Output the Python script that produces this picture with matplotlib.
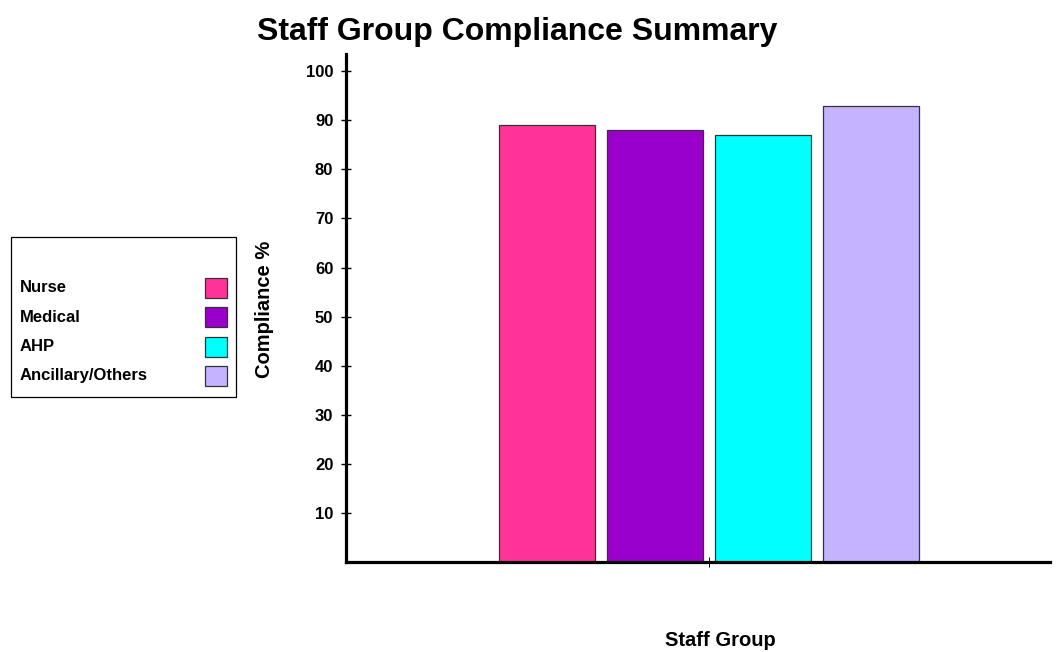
import matplotlib
matplotlib.use("Agg")
import matplotlib.pyplot as plt
from matplotlib.patches import Rectangle

categories = ["Nurse", "Medical", "AHP", "Ancillary/Others"]
values = [89, 88, 87, 93]
colors = ["#FF3399", "#9900CC", "#00FFFF", "#C6B3FF"]
yticks = [10, 20, 30, 40, 50, 60, 70, 80, 90, 100]
title = "Staff Group Compliance Summary"
xlabel = "Staff Group"
ylabel = "Compliance %"

plt.rcParams['font.family'] = ['Liberation Sans', 'DejaVu Sans']
plt.rcParams['font.weight'] = 'bold'

W, H = 1062, 652
fig = plt.figure(figsize=(W / 100, H / 100), dpi=100)
ax_l, ax_r, ax_t, ax_b = 346, 1050, 54, 562
ax = fig.add_axes([ax_l / W, (H - ax_b) / H, (ax_r - ax_l) / W, (ax_b - ax_t) / H])

pitch = 108.0
bw = 96 / pitch
n = len(categories)
pos = [i - (n - 1) / 2 for i in range(n)]
ax.bar(pos, values, width=bw, color=colors, edgecolor="#333333", linewidth=0.9, zorder=2)

ax.set_xlim((ax_l - 709) / pitch, (ax_r - 709) / pitch)
ax.set_ylim(0, 103.5)
ax.set_yticks(yticks)
ax.set_yticklabels([str(v) for v in yticks], fontsize=12, fontweight='bold')
ax.set_xticks([0])
ax.set_xticklabels([""])
ax.tick_params(axis='y', direction='inout', length=7.2, width=1.0, pad=5.5)
ax.tick_params(axis='x', direction='inout', length=7, width=0.7)
for s in ["top", "right"]:
    ax.spines[s].set_visible(False)
ax.spines["left"].set_linewidth(2.3)
ax.spines["bottom"].set_linewidth(2.3)

fig.text(517 / W, 1 - 32 / H, title, fontsize=23, fontweight='bold', ha='center', va='center')
fig.text(265 / W, 1 - 309 / H, ylabel, fontsize=14.5, fontweight='bold', ha='center', va='center', rotation=90)
fig.text(720 / W, 1 - 640 / H, xlabel, fontsize=14.5, fontweight='bold', ha='center', va='center')

# legend box
lx0, lx1, ly0, ly1 = 11, 236, 237, 397
fig.patches.append(Rectangle((lx0 / W, 1 - ly1 / H), (lx1 - lx0) / W, (ly1 - ly0) / H,
                             transform=fig.transFigure, facecolor='white', edgecolor='black', linewidth=0.9))
row0, rstep = 288, 29.3
for i, (c, col) in enumerate(zip(categories, colors)):
    yc = row0 + i * rstep
    fig.text(20 / W, 1 - yc / H, c, fontsize=12, fontweight='bold', ha='left', va='center')
    fig.patches.append(Rectangle((205 / W, 1 - (yc + 10) / H), 22 / W, 20 / H,
                                 transform=fig.transFigure, facecolor=col, edgecolor='#333333', linewidth=0.9))

fig.savefig("out.png", dpi=100)
